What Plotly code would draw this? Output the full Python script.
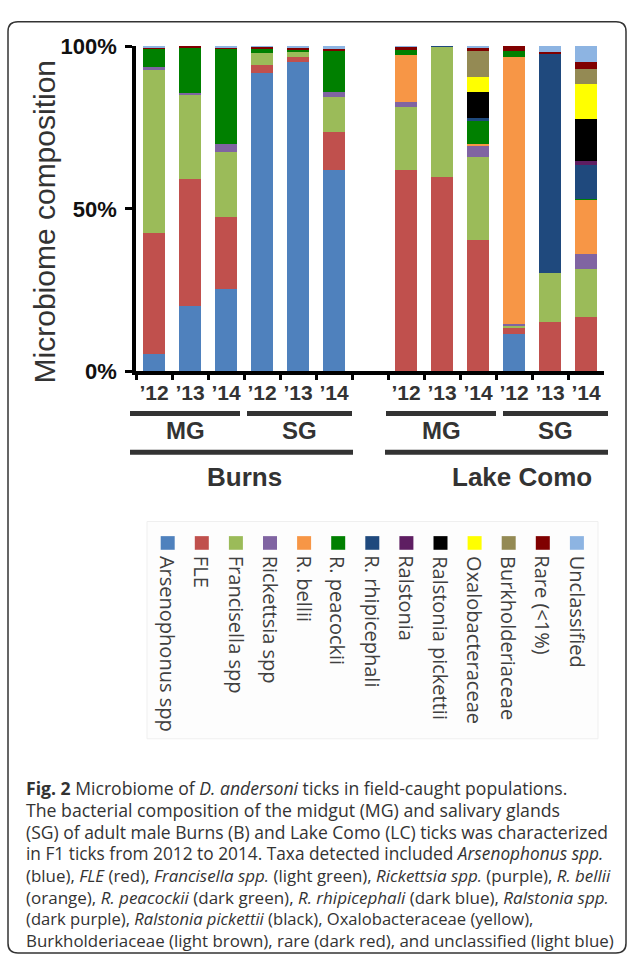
import plotly.graph_objects as go

W, H = 627, 970

# ---------------- data ----------------
samples = ["B-MG-12", "B-MG-13", "B-MG-14", "B-SG-12", "B-SG-13", "B-SG-14",
           "LC-MG-12", "LC-MG-13", "LC-MG-14", "LC-SG-12", "LC-SG-13", "LC-SG-14"]
gap_category = "gap"
category_order = samples[:6] + [gap_category] + samples[6:]
year_labels = ["’12", "’13", "’14", "’12", "’13", "’14", "",
               "’12", "’13", "’14", "’12", "’13", "’14"]

taxa = ["Arsenophonus spp", "FLE", "Francisella spp", "Rickettsia spp", "R. bellii",
        "R. peacockii", "R. rhipicephali", "Ralstonia", "Ralstonia pickettii",
        "Oxalobacteraceae", "Burkholderiaceae", "Rare (<1%)", "Unclassified"]

arsenophonus = [5.4, 20.0, 25.4, 91.6, 95.0, 62.0, 0, 0, 0, 11.6, 0, 0]
fle = [37.3, 39.1, 22.1, 2.7, 1.5, 11.6, 61.8, 59.9, 40.3, 1.9, 15.2, 16.8]
francisella = [50.1, 26.1, 19.9, 3.6, 1.8, 10.8, 19.6, 39.8, 25.6, 0.6, 15.2, 14.7]
rickettsia = [0.7, 0.4, 2.6, 0, 0, 1.6, 1.3, 0, 3.5, 0.5, 0, 4.6]
r_bellii = [0, 0, 0, 0, 0, 0, 14.7, 0, 0.5, 81.9, 0, 16.6]
r_peacockii = [5.6, 14.0, 29.1, 1.3, 0.5, 12.5, 1.3, 0, 7.0, 1.9, 0, 0.3]
r_rhipicephali = [0, 0, 0, 0, 0, 0, 0, 0.3, 1.1, 0, 67.4, 10.6]
ralstonia = [0, 0, 0, 0, 0, 0, 0, 0, 0, 0, 0, 1.1]
ralstonia_pickettii = [0, 0, 0, 0, 0, 0, 0, 0, 8.0, 0, 0, 13.0]
oxalobacteraceae = [0, 0, 0, 0, 0, 0, 0, 0, 4.6, 0, 0, 10.5]
burkholderiaceae = [0, 0, 0, 0, 0, 0, 0, 0, 8.0, 0, 0, 4.8]
rare = [0.4, 0.4, 0.4, 0.5, 0.7, 0.6, 1.1, 0, 0.9, 1.6, 0.4, 2.2]
unclassified = [0.5, 0, 0.5, 0.2, 0.5, 0.9, 0.2, 0, 0.5, 0, 1.8, 4.8]

series = [arsenophonus, fle, francisella, rickettsia, r_bellii, r_peacockii,
          r_rhipicephali, ralstonia, ralstonia_pickettii, oxalobacteraceae,
          burkholderiaceae, rare, unclassified]

colors = ["#4F81BD", "#C0504D", "#9BBB59", "#8064A2", "#F79646", "#008000",
          "#1F497D", "#5E1E62", "#000000", "#FFFF00", "#948A54", "#800000", "#8DB4E2"]

tissue_groups = [("MG", 130, 240), ("SG", 247, 352), ("MG", 386, 496), ("SG", 503, 608)]
site_groups = [("Burns", 130, 353, 244), ("Lake Como", 385, 608, 522)]

caption_lines = [
    "<b>Fig. 2</b> Microbiome of <i>D. andersoni</i> ticks in field-caught populations.",
    "The bacterial composition of the midgut (MG) and salivary glands",
    "(SG) of adult male Burns (B) and Lake Como (LC) ticks was characterized",
    "in F1 ticks from 2012 to 2014. Taxa detected included <i>Arsenophonus spp.</i>",
    "(blue), <i>FLE</i> (red), <i>Francisella spp.</i> (light green), <i>Rickettsia spp.</i> (purple), <i>R. bellii</i>",
    "(orange), <i>R. peacockii</i> (dark green), <i>R. rhipicephali</i> (dark blue), <i>Ralstonia spp.</i>",
    "(dark purple), <i>Ralstonia pickettii</i> (black), Oxalobacteraceae (yellow),",
    "Burkholderiaceae (light brown), rare (dark red), and unclassified (light blue)",
]
caption_sizes = [17.6, 17.7, 17.5, 17.3, 16.9, 17.0, 16.6, 16.9]


def X(px):
    return px / W


def Y(py):
    return 1 - py / H


fig = go.Figure()
for name, vals, col in zip(taxa, series, colors):
    fig.add_trace(go.Bar(x=samples, y=vals, name=name, marker_color=col,
                         marker_line_width=0, width=0.61, showlegend=False))

fig.update_layout(
    width=W, height=H, barmode="stack",
    margin=dict(l=0, r=0, t=0, b=0),
    paper_bgcolor="white", plot_bgcolor="white",
    font=dict(family="Liberation Sans, Arial, sans-serif", color="#333"),
    xaxis=dict(domain=[X(136), X(604)], type="category",
               categoryorder="array", categoryarray=category_order,
               range=[-0.5, 12.5], tickmode="array", tickvals=category_order,
               ticktext=year_labels, tickson="boundaries", ticks="outside",
               ticklen=5, tickwidth=2.5, tickcolor="black", tickangle=0,
               showline=True, linewidth=3.5, linecolor="black",
               tickfont=dict(size=21, color="#333", weight="bold"),
               showgrid=False, zeroline=False, fixedrange=True),
    yaxis=dict(domain=[Y(369), Y(35)], range=[0, 100],
               tickvals=[0, 50, 100], ticktext=["0%", "50%", "100%"],
               ticks="outside", ticklen=7, tickwidth=3, tickcolor="black",
               ticklabelstandoff=4,
               showline=True, linewidth=3.5, linecolor="black",
               tickfont=dict(size=22, color="#111", weight="bold"),
               showgrid=False, zeroline=False, fixedrange=True),
)

shapes = []
annotations = []

# frame
r = 10
x0, x1, y0, y1 = 8, 626, 10, 966
path = (f"M {X(x0+r)},{Y(y0)} L {X(x1-r)},{Y(y0)} Q {X(x1)},{Y(y0)} {X(x1)},{Y(y0+r)} "
        f"L {X(x1)},{Y(y1-r)} Q {X(x1)},{Y(y1)} {X(x1-r)},{Y(y1)} "
        f"L {X(x0+r)},{Y(y1)} Q {X(x0)},{Y(y1)} {X(x0)},{Y(y1-r)} "
        f"L {X(x0)},{Y(y0+r)} Q {X(x0)},{Y(y0)} {X(x0+r)},{Y(y0)} Z")
shapes.append(dict(type="path", xref="paper", yref="paper", path=path,
                   line=dict(color="#333", width=1.5)))

# y title
annotations.append(dict(text="Microbiome composition", xref="paper", yref="paper",
                        x=X(44), y=Y(216), textangle=-90, showarrow=False,
                        xanchor="center", yanchor="middle",
                        font=dict(size=30, color="#333")))

# group lines / labels
for label, a, b in tissue_groups:
    shapes.append(dict(type="line", xref="paper", yref="paper", x0=X(a), x1=X(b),
                       y0=Y(412), y1=Y(412), line=dict(color="#333", width=5)))
    annotations.append(dict(text=f"<b>{label}</b>", xref="paper", yref="paper",
                            x=X((a + b) / 2), y=Y(430), showarrow=False,
                            xanchor="center", yanchor="middle",
                            font=dict(size=24, color="#333")))
for label, a, b, c in site_groups:
    shapes.append(dict(type="line", xref="paper", yref="paper", x0=X(a), x1=X(b),
                       y0=Y(452), y1=Y(452), line=dict(color="#333", width=5)))
    annotations.append(dict(text=f"<b>{label}</b>", xref="paper", yref="paper",
                            x=X(c), y=Y(477), showarrow=False,
                            xanchor="center", yanchor="middle",
                            font=dict(size=26, color="#333")))

# legend box
shapes.append(dict(type="rect", xref="paper", yref="paper", x0=X(147), x1=X(598),
                   y0=Y(746), y1=Y(523), line=dict(color="#efefef", width=1),
                   fillcolor="#fdfdfd", layer="below"))
for i, (name, col) in enumerate(zip(taxa, colors)):
    cx = 167.7 + 34.1 * i
    shapes.append(dict(type="rect", xref="paper", yref="paper", x0=X(cx - 7), x1=X(cx + 7),
                       y0=Y(552), y1=Y(538), fillcolor=col, line=dict(color=col, width=0)))
    annotations.append(dict(text=name, xref="paper", yref="paper", x=X(cx), y=Y(556),
                            textangle=90, showarrow=False, xanchor="center", yanchor="top",
                            font=dict(family="Open Sans, sans-serif", size=20, color="#404040")))

# caption
for i, (line, sz) in enumerate(zip(caption_lines, caption_sizes)):
    annotations.append(dict(text=line, xref="paper", yref="paper", x=X(24), y=Y(797 + 22.3 * i),
                            showarrow=False, xanchor="left", yanchor="middle", align="left",
                            font=dict(family="Open Sans, sans-serif", size=sz, color="#333")))

fig.update_layout(shapes=shapes, annotations=annotations)

pin_page = (
    "document.documentElement.style.margin='0';"
    "document.documentElement.style.padding='0';"
    "document.documentElement.style.overflow='hidden';"
    "document.body.style.margin='0';"
    "document.body.style.padding='0';"
    "document.body.style.overflow='hidden';"
    "var d=document.getElementById('{plot_id}');"
    "d.style.position='fixed';d.style.left='0px';d.style.top='0px';"
)
fig.write_html("out.html", config={"displayModeBar": False}, post_script=pin_page)
